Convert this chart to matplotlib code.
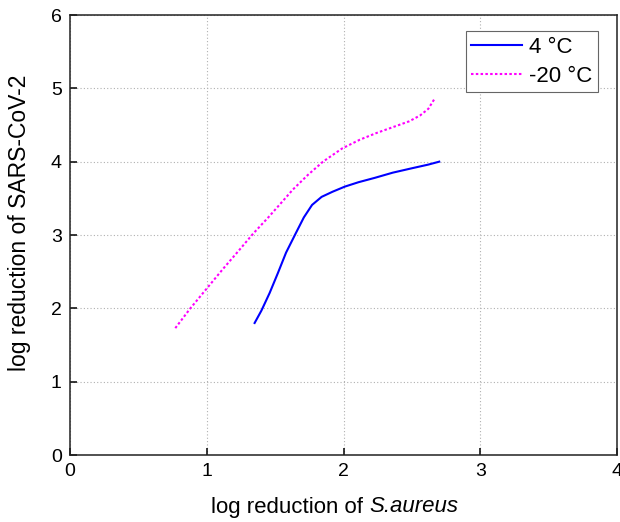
import numpy as np
import matplotlib
matplotlib.use('Agg')
import matplotlib.pyplot as plt

plt.rcParams['font.family'] = ['Liberation Sans', 'DejaVu Sans']

# 4 °C curve
x_4c = [1.35, 1.40, 1.46, 1.52, 1.58, 1.65, 1.71, 1.77, 1.84, 1.92, 2.01, 2.11, 2.23, 2.36, 2.50, 2.62, 2.70]
y_4c = [1.80, 1.97, 2.21, 2.48, 2.76, 3.02, 3.24, 3.41, 3.52, 3.59, 3.66, 3.72, 3.78, 3.85, 3.91, 3.96, 4.00]

# -20 °C curve
x_20c = [0.77, 0.88, 1.00, 1.12, 1.24, 1.34, 1.45, 1.55, 1.63, 1.74, 1.85, 1.99, 2.12, 2.24, 2.36, 2.48, 2.56, 2.62, 2.67]
y_20c = [1.73, 2.00, 2.27, 2.54, 2.80, 3.02, 3.24, 3.45, 3.62, 3.82, 4.00, 4.18, 4.30, 4.39, 4.47, 4.55, 4.63, 4.72, 4.87]

fig = plt.figure(figsize=(6.2, 5.22), dpi=100)
ax = fig.add_axes([70 / 620, 67 / 522, 547 / 620, 440 / 522])

ax.plot(x_4c, y_4c, color='#0000ff', lw=1.5, label='4 °C')
ax.plot(x_20c, y_20c, color='#ff00ff', lw=1.5, linestyle=(0, (1.2, 1.1)), label='-20 °C')

ax.set_xlim(0, 4)
ax.set_ylim(0, 6)
ax.set_xticks([0, 1, 2, 3, 4])
ax.set_yticks([0, 1, 2, 3, 4, 5, 6])
ax.grid(True, color='#b0b0b0', linestyle=(0, (1, 2)), lw=0.8)
ax.tick_params(direction='in', length=5, width=1.1, labelsize=14, pad=6, top=False, right=False)
for s in ax.spines.values():
    s.set_linewidth(1.1)
    s.set_color('#222222')

# x label: plain part + italic species name
fig.text(369 / 620, 15 / 522, 'log reduction of ', fontsize=16, ha='right', va='center')
fig.text(369 / 620, 15 / 522, 'S.aureus', fontsize=16, style='italic', ha='left', va='center')

ax.set_ylabel('log reduction of SARS-CoV-2', fontsize=16.5)
ax.yaxis.set_label_coords(-0.072, 0.527)

leg = ax.legend(loc='upper right', bbox_to_anchor=(0.965, 0.963), fontsize=16, fancybox=False,
                framealpha=1, edgecolor='#666666', handlelength=2.3, borderpad=0.25,
                labelspacing=0.35, handletextpad=0.3, borderaxespad=0)
leg.get_frame().set_linewidth(0.8)

fig.savefig('out.png', dpi=100)
